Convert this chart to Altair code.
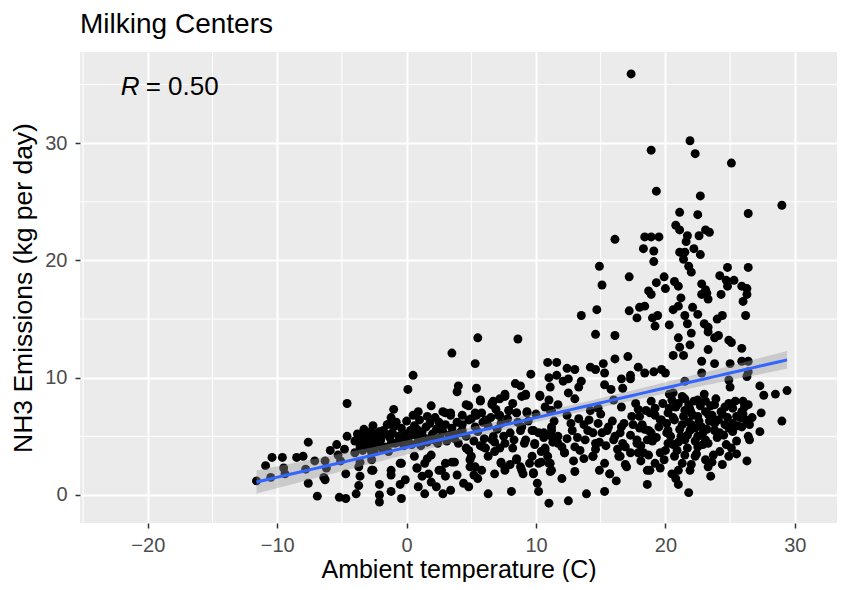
import altair as alt
import pandas as pd
import numpy as np

# ---- data (temperature C, NH3 kg/day) ----
upper_x = [17.35, 18.9, 21.9, 22.3, 25.1, 19.3, 22.7, 29.0, 21.1, 22.5, 26.4, 20.8, 21.1, 21.7, 21.6, 22.6, 23.1, 23.4,
           16.1, 18.4, 18.9, 19.5, 18.3, 19.1, 19.1, 21.1, 21.5, 22.2, 22.7, 21.4, 21.8, 22.0, 14.9, 15.1, 17.2, 14.7,
           13.5, 19.9, 19.3, 18.7, 18.9, 20.0, 20.7, 21.0, 21.2, 21.0, 20.6, 22.8, 23.1, 22.8, 23.3, 23.2, 24.2, 24.8,
           24.7, 25.3, 24.8, 24.3, 26.4, 25.9, 26.3, 26.3, 26.0, 18.0, 18.4, 17.2, 17.8, 19.0, 19.4, 19.2, 20.3, 22.1,
           21.5, 21.7, 22.5, 23.0, 23.3, 24.0, 24.4, 26.2, 14.6, 16.1]
upper_y = [35.9, 29.4, 30.2, 29.1, 28.3, 25.9, 25.5, 24.7, 24.1, 23.9, 24.0, 23.0, 22.6, 22.1, 21.6, 22.1, 22.6, 22.4,
           21.8, 22.0, 22.0, 22.0, 21.0, 20.8, 19.9, 20.7, 20.7, 21.0, 20.5, 20.1, 19.5, 19.0, 19.5, 17.9, 18.6, 15.8,
           15.3, 18.6, 18.1, 17.4, 17.1, 17.6, 18.2, 17.8, 16.8, 16.1, 15.8, 18.0, 17.5, 17.1, 16.7, 17.2, 18.7, 19.4,
           18.3, 18.3, 17.8, 17.1, 19.4, 17.8, 17.6, 17.1, 16.5, 16.0, 16.1, 15.7, 15.1, 15.1, 15.3, 14.4, 14.5, 16.0,
           15.3, 14.6, 15.4, 14.6, 14.3, 15.0, 15.3, 15.3, 13.7, 13.6]

right_x = [21.0, 22.0, 23.3, 24.1, 23.8, 24.9, 25.1, 25.9, 21.1, 21.9, 23.3, 20.6, 21.4, 22.8, 23.8, 25.0, 25.9, 26.4,
           26.4, 26.3, 24.9, 25.0, 22.8, 21.5, 20.0, 27.3, 27.6, 28.5, 29.4, 27.4, 29.0, 27.3, 26.5, 25.1, 24.2, 24.9,
           22.5, 23.1, 23.8, 24.6, 25.4, 26.0, 26.4, 25.9, 25.5, 26.2, 25.2, 24.6, 24.1, 23.6, 23.1, 22.5, 22.0, 21.5,
           21.0, 20.5, 20.2, 20.7, 21.3, 21.8, 22.3, 22.8, 23.8, 24.9, 25.9, 20.6, 21.3, 21.8, 20.2, 21.0, 21.5, 22.5,
           23.1, 22.5, 23.3, 20.7, 21.5, 22.3, 23.1, 23.6, 21.3, 20.5, 21.0, 21.9, 23.3, 21.0, 21.8, 20.2, 20.0,
           17.5, 17.9, 18.1, 18.4, 18.7, 18.9, 19.3, 19.6, 19.9, 20.1, 20.3, 20.6, 20.9, 21.2, 21.5, 21.7, 21.9,
           22.1, 22.4, 22.7, 22.9, 23.2, 23.4, 23.7, 23.9, 24.2, 24.4, 24.7, 24.9, 25.2, 25.5, 25.8, 26.1, 26.4,
           26.7, 19.6, 22.0, 24.4, 20.8, 23.5, 25.5, 26.3, 18.1]
right_y = [13.4, 13.8, 13.9, 13.6, 13.4, 13.2, 13.0, 12.5, 12.6, 12.8, 12.4, 11.9, 11.9, 11.4, 11.2, 11.2, 11.4, 11.4,
           10.5, 10.1, 9.8, 9.2, 10.4, 9.7, 10.4, 9.3, 8.5, 8.6, 8.9, 7.0, 6.3, 5.4, 4.7, 4.0, 3.7, 3.3,
           8.1, 8.0, 7.7, 7.5, 8.0, 8.0, 7.7, 7.1, 6.7, 6.4, 6.1, 6.0, 6.4, 6.8, 7.1, 6.7, 7.0, 7.2,
           7.8, 8.1, 7.0, 6.4, 6.0, 6.2, 5.7, 5.8, 5.5, 5.7, 5.8, 8.7, 8.4, 7.7, 4.4, 4.5, 4.7, 5.0,
           4.7, 4.1, 4.4, 3.3, 3.4, 3.3, 3.0, 2.8, 2.7, 1.8, 2.1, 2.1, 2.4, 0.9, 0.2, 5.5, 3.8,
           6.0, 7.3, 4.2, 5.6, 3.4, 8.0, 4.9, 6.4, 3.0, 5.3, 7.4, 6.6, 3.8, 5.0, 8.2, 4.0, 5.5,
           6.8, 3.5, 7.6, 4.3, 5.6, 6.3, 3.4, 8.2, 5.3, 6.9, 4.3, 7.8, 5.4, 4.6, 6.6, 7.5, 5.0,
           6.6, 2.3, 2.6, 2.6, 1.4, 1.6, 3.5, 2.9, 2.9]

mid_x = [9.6, 10.9, 11.6, 11.0, 11.6, 11.1, 12.4, 13.0, 12.5, 12.1, 14.2, 14.6, 15.2, 15.3, 16.1, 17.1, 17.9, 16.6,
         17.3, 17.3, 18.4, 19.1, 19.7, 13.5, 13.3, 15.3, 15.8, 16.7, 10.3, 9.2, 12.5, 13.0, 9.3, 11.0, 11.7, 11.1,
         12.4, 13.3, 14.2, 14.8, 16.0, 17.7, 18.0, 18.8, 19.2, 19.7, 9.7, 10.2, 11.2, 11.7, 9.9, 10.4, 11.2, 12.8,
         12.2, 13.4, 9.5, 10.2, 11.0, 9.8, 11.1, 13.0, 10.1, 10.2, 11.0, 12.5, 13.9, 15.3, 14.4, 15.3, 15.7, 16.4,
         16.9, 16.9, 16.1, 15.1, 14.6, 14.0, 17.8, 17.9, 18.6, 18.8, 19.2, 19.6, 18.7, 17.4, 16.6, 15.6, 13.8, 10.7,
         11.7, 13.0, 14.8, 16.6, 13.7, 14.4, 15.5, 16.5, 17.3, 18.0, 11.3, 12.4, 14.9, 16.0, 16.7, 17.8, 18.6, 12.2,
         14.4, 16.5, 17.3, 18.3, 11.1, 17.0, 9.0, 9.8, 11.2, 15.7, 18.6,
         9.4, 10.0, 10.6, 11.4, 12.0, 12.7, 13.2, 13.7, 14.1, 14.6, 15.0, 15.4, 15.9, 16.3, 16.8, 12.9, 10.9,
         14.9, 16.2, 12.0]
mid_y = [10.3, 11.3, 11.3, 10.0, 10.2, 9.2, 10.8, 10.7, 9.9, 9.7, 10.9, 10.7, 11.2, 10.4, 11.6, 11.8, 10.9, 9.9,
         10.2, 9.9, 10.4, 10.5, 10.7, 9.7, 9.2, 9.4, 9.0, 9.1, 8.4, 8.6, 8.7, 8.2, 7.1, 8.1, 7.7, 7.2,
         6.8, 6.5, 7.2, 7.4, 8.1, 7.8, 6.7, 7.0, 7.4, 6.4, 5.5, 5.3, 5.5, 5.0, 4.4, 3.7, 5.8, 5.5,
         3.6, 3.8, 2.7, 2.7, 2.7, 1.8, 2.0, 2.0, 1.0, 0.3, -0.7, -0.5, 0.1, 0.3, 3.3, 2.7, 1.8, 3.3,
         2.6, 4.1, 5.0, 5.3, 4.4, 5.5, 4.7, 3.6, 0.9, 2.1, 2.7, 3.6, 5.5, 6.7, 5.8, 5.8, 4.7, 3.8,
         4.4, 4.1, 6.1, 7.5, 6.0, 5.3, 5.5, 5.3, 5.1, 5.7, 4.5, 4.8, 4.5, 4.7, 4.4, 4.4, 4.7, 3.6,
         3.3, 3.3, 3.6, 3.6, 2.7, 2.4, 1.8, 1.9, 2.1, 1.8, 2.1,
         6.3, 6.9, 4.9, 6.3, 4.1, 6.1, 4.9, 3.1, 6.4, 3.9, 6.9, 4.2, 6.3, 3.9, 6.1, 2.9, 3.3,
         2.1, 1.2, 1.4]

center_x = [5.5, 8.6, 3.5, 5.3, 0.5, 0.1, 4.0, 3.9, 5.4, 8.4, 8.8, 7.6, 7.2, 8.9, 5.7, 6.7, 6.6, 7.9, -1.0, 1.9,
            0.9, 1.6, 2.8, 3.4, 4.8, 4.3, 5.3, 6.1, 7.2, 8.5, -1.2, -0.4, -1.2, -0.5, -1.2, -0.4, 0.8, 1.4, 1.7, 0.9,
            1.4, 1.9, 2.3, 2.8, 3.4, 3.7, 3.9, 4.4, 4.8, 4.9, 5.2, 5.5, 5.8, 6.3, 6.8, 7.2, 7.3, 7.6, 8.0, 8.1,
            8.5, 8.9, 6.1, 6.6, 4.8, 5.0, 2.7, 3.0, 1.2, -0.1, -1.3, -2.8, -2.1, 3.0, 3.4, -3.6, -2.7, -2.7, -1.4, -1.2,
            -0.5, 0.6, 0.8, 1.6, 1.9, 2.5, 3.0, 3.5, 4.6, 5.7, 6.6, 7.6, 9.2, 10.3, 4.8, 5.4, 5.9, 7.1, 7.9, 8.5,
            9.3, 10.7, 11.2, 4.3, 5.3, 6.7, 8.8, 9.8, 10.6, 11.2, 4.6, 5.9, 6.8, 7.6, 8.2, 9.2, 9.9, 10.7, 4.9, 6.3,
            7.3, 8.5, 9.7, 10.4, 7.6, 5.3, 8.8]
center_y = [13.4, 13.3, 12.1, 11.2, 10.2, 9.0, 9.3, 8.8, 9.1, 9.5, 9.3, 8.6, 8.2, 8.4, 8.0, 8.0, 7.7, 7.2, 7.3, 7.6,
            7.1, 6.7, 7.1, 7.0, 7.6, 6.8, 7.0, 6.4, 6.8, 7.0, 4.4, 2.7, 1.7, 0.9, 0.3, -0.3, 2.3, 2.7, 1.8, 0.7,
            0.1, 1.1, 0.7, 0.1, 0.4, 2.8, 1.7, 1.0, 0.7, 2.4, 1.7, 1.4, 2.1, 0.1, 1.8, 4.0, 2.7, 2.1, 2.6, 0.3,
            3.0, 2.1, 4.0, 4.7, 3.8, 3.3, 2.1, 1.6, 1.6, 1.3, 6.1, 5.4, 5.4, 7.0, 6.8, 4.1, 3.6, 2.1, 3.7, 2.1,
            2.7, 3.3, 2.3, 3.1, 3.4, 2.1, 2.7, 2.8, 7.7, 8.1, 7.8, 8.4, 8.5, 8.5, 6.4, 6.8, 6.2, 6.8, 7.2, 7.0,
            7.0, 7.5, 7.2, 5.5, 5.8, 5.0, 5.5, 5.5, 5.3, 5.0, 4.0, 4.1, 3.7, 4.4, 4.0, 4.7, 4.3, 4.0, 3.0, 3.3,
            2.8, 3.1, 3.3, 2.8, 2.3, 2.4, 2.4]

left_x = [-11.6, -10.9, -10.4, -10.5, -9.6, -9.5, -9.4, -8.5, -8.0, -7.8, -7.6, -7.6, -7.1, -6.9, -6.3, -6.2,
          -6.4, -6.3, -5.9, -5.4, -4.8, -5.3, -5.1, -4.7, -4.6, -4.6, -5.2, -4.7, -3.9, -3.7, -3.6, -4.0, -3.4,
          -3.6, -3.7, -3.2, -2.7, -2.3, -2.0, -2.8, -2.3, -3.2, -1.9, -2.5, -2.7, -2.6, -2.1, -2.1, -2.1]
left_y = [1.2, 2.5, 3.2, 1.5, 3.2, 2.3, 1.8, 3.2, 3.3, 2.2, 4.5, 1.0, 2.9, -0.1, 2.9, 2.3,
          1.5, 1.3, 3.8, 4.3, 3.9, 3.4, 2.9, 1.8, 7.8, 5.0, -0.2, -0.3, 0.1, 0.8, 1.6, 3.6, 3.8,
          2.8, 2.4, 5.2, 5.4, 5.1, 5.3, 4.5, 4.3, 4.3, 4.0, 3.7, 3.0, 2.1, 0.9, 0.0, -0.6]

band_x = [-4.0, -3.8, -3.5, -3.3, -3.0, -2.9, -2.6, -2.4, -2.2, -2.0, -1.8, -1.7, -1.5, -1.3, -1.1, -0.9, -0.8,
          -0.6, -0.4, -0.3, -0.1, 0.0, 0.1, 0.3, 0.4, 0.6, 0.7, 0.9, 1.0, 1.2, 1.3, 1.5, 1.6, 1.8, 2.0, 2.1, 2.3,
          2.5, 2.6, 2.8, 3.0, 3.1, 3.3, 3.5, 3.7, 3.9, 4.1, -2.7, -0.2, 1.1, 2.2, -1.2, 0.5, -3.6,
          4.3, 4.6, 5.0, 5.2, 5.5, 5.8, 6.0, 6.3, 6.5, 6.8, 7.0, 7.3, 7.5, 7.8, 8.0, 8.3, 8.6, 8.9, 9.1, 4.0,
          5.7, 6.9, 8.2,
          18.2, 18.5, 18.9, 19.2, 19.5, 19.8, 20.1, 20.4, 20.8, 21.1, 21.4, 21.7, 22.0, 22.2, 22.6, 22.9, 23.3,
          23.5, 23.8, 24.3, 24.5, 24.8, 25.2, 25.6, 26.0, 26.5, 19.0, 20.6, 22.3, 24.0, 21.9, 23.0, 20.3,
          -2.4, -1.6, -0.7, 0.2, 1.0, 1.9, 2.7, 3.6, -3.2, -1.0, 0.8, 2.4]
band_y = [4.6, 5.2, 4.3, 5.6, 4.8, 4.0, 5.9, 4.4, 5.1, 4.7, 5.5, 4.1, 6.0, 4.9, 5.3, 4.4, 6.2,
          5.0, 5.7, 4.6, 5.2, 6.3, 4.8, 5.5, 4.3, 5.9, 5.1, 4.6, 6.4, 5.4, 4.9, 5.8, 4.5, 6.1, 5.2, 4.7, 5.6,
          6.2, 4.9, 5.4, 6.0, 4.6, 5.1, 5.7, 4.8, 6.2, 5.3, 5.3, 4.2, 4.2, 6.6, 6.6, 6.8, 5.0,
          6.0, 5.0, 6.5, 4.6, 5.4, 7.0, 4.8, 5.9, 6.6, 4.5, 5.6, 6.1, 5.0, 6.5, 5.3, 4.7, 6.2, 5.8, 4.4, 4.4,
          4.2, 7.3, 7.8,
          6.0, 7.2, 5.3, 6.8, 5.8, 7.8, 6.1, 5.0, 7.5, 5.6, 6.7, 5.1, 6.0, 8.0, 6.3, 5.3, 6.9,
          7.6, 6.1, 7.1, 5.1, 6.6, 7.4, 5.9, 6.9, 6.0, 4.6, 4.3, 4.6, 4.9, 7.3, 8.6, 8.6,
          4.8, 5.2, 4.5, 5.0, 5.2, 4.9, 5.8, 5.2, 4.5, 5.8, 5.6, 4.4]

temp_c = upper_x + right_x + mid_x + center_x + left_x + band_x
nh3 = upper_y + right_y + mid_y + center_y + left_y + band_y

x_ticks = [-20, -10, 0, 10, 20, 30]
y_ticks = [0, 10, 20, 30]
x_minor = [-25, -15, -5, 5, 15, 25]
y_minor = [5, 15, 25, 35]
x_domain = [-25.24, 33.26]
y_domain = [-2.39, 37.77]
r_label = "0.50"

df = pd.DataFrame({"temp": temp_c, "nh3": nh3})

# linear fit with 95% confidence band (like geom_smooth(method="lm"))
xv = np.array(temp_c)
yv = np.array(nh3)
n = len(xv)
b, a = np.polyfit(xv, yv, 1)
resid = yv - (a + b * xv)
s = np.sqrt(np.sum(resid ** 2) / (n - 2))
sxx = np.sum((xv - xv.mean()) ** 2)
grid = np.linspace(xv.min(), xv.max(), 80)
fit = a + b * grid
se = s * np.sqrt(1.0 / n + (grid - xv.mean()) ** 2 / sxx)
fit_df = pd.DataFrame({"temp": grid, "fit": fit, "lo": fit - 1.963 * se, "hi": fit + 1.963 * se})

FONT = "Liberation Sans"
xs = alt.Scale(domain=x_domain, nice=False, zero=False)
ys = alt.Scale(domain=y_domain, nice=False, zero=False)

xaxis = alt.Axis(values=x_ticks, title="Ambient temperature (C)", grid=True, gridColor="white", gridWidth=2,
                 domain=False, tickColor="#333333", tickSize=5, tickWidth=1.5, labelColor="#4D4D4D",
                 labelFontSize=20, labelFont=FONT, labelPadding=7, titleFont=FONT, titleFontSize=25,
                 titleFontWeight="normal", titleColor="black", titleBaseline="alphabetic", titleY=54)
yaxis = alt.Axis(values=y_ticks, title="NH3 Emissions (kg per day)", grid=True, gridColor="white", gridWidth=2,
                 domain=False, tickColor="#333333", tickSize=5, tickWidth=1.5, labelColor="#4D4D4D",
                 labelFontSize=20, labelFont=FONT, labelPadding=8, titleFont=FONT, titleFontSize=26.5,
                 titleFontWeight="normal", titleColor="black", titlePadding=7)

minor_x = alt.Chart(pd.DataFrame({"v": x_minor})).mark_rule(color="white", strokeWidth=1).encode(
    x=alt.X("v:Q", scale=xs, axis=xaxis))
minor_y = alt.Chart(pd.DataFrame({"v": y_minor})).mark_rule(color="white", strokeWidth=1).encode(
    y=alt.Y("v:Q", scale=ys, axis=yaxis))

points = alt.Chart(df).mark_circle(size=80, color="black", opacity=1).encode(
    x=alt.X("temp:Q", scale=xs, axis=xaxis),
    y=alt.Y("nh3:Q", scale=ys, axis=yaxis))

band = alt.Chart(fit_df).mark_area(color="#999999", opacity=0.4).encode(
    x=alt.X("temp:Q", scale=xs, axis=xaxis),
    y=alt.Y("lo:Q", scale=ys, axis=yaxis), y2="hi:Q")
line = alt.Chart(fit_df).mark_line(color="#3366FF", strokeWidth=3).encode(
    x=alt.X("temp:Q", scale=xs, axis=xaxis),
    y=alt.Y("fit:Q", scale=ys, axis=yaxis))

ann_df = pd.DataFrame({"temp": [-22.1], "nh3": [34.75]})
r_txt = alt.Chart(ann_df).mark_text(text="R", font=FONT, fontSize=26, fontStyle="italic", align="left",
                                    baseline="middle", color="black").encode(
    x=alt.X("temp:Q", scale=xs), y=alt.Y("nh3:Q", scale=ys))
v_txt = alt.Chart(ann_df).mark_text(text="= " + r_label, font=FONT, fontSize=26, align="left",
                                    baseline="middle", color="black", dx=25).encode(
    x=alt.X("temp:Q", scale=xs), y=alt.Y("nh3:Q", scale=ys))

chart = alt.layer(minor_x, minor_y, points, band, line, r_txt, v_txt).properties(
    width=757, height=471,
    title=alt.Title("Milking Centers", anchor="start", frame="group", font=FONT, fontSize=28,
                    fontWeight="normal", color="black", offset=13),
    autosize=alt.AutoSizeParams(type="none"),
    padding={"left": 72, "top": 44, "right": 0, "bottom": 59},
).configure_view(fill="#EBEBEB", stroke=None)

chart.save("out.html", embed_options={"renderer": "svg", "actions": False})
